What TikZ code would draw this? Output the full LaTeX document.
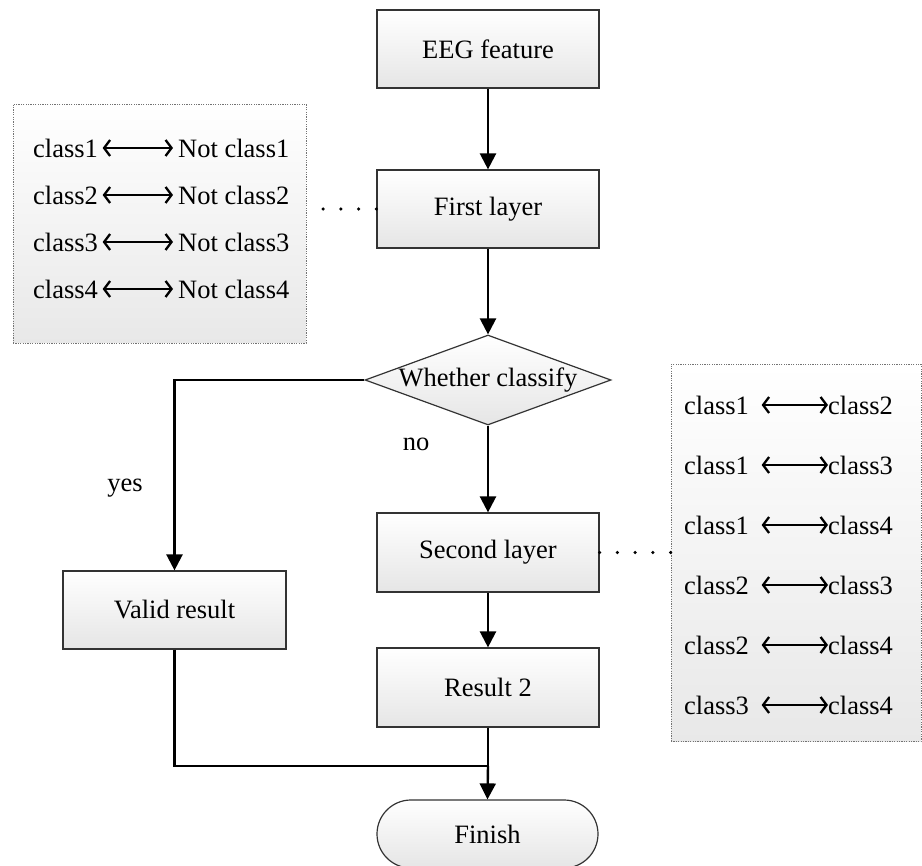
\documentclass[tikz,border=0pt]{standalone}
\usepackage{fontspec}
\setmainfont{Liberation Serif}
\usetikzlibrary{arrows.meta,shapes.geometric}
\begin{document}
\begin{tikzpicture}[x=1pt,y=-1pt,
  every node/.style={font=\fontsize{26.5}{30}\selectfont},
  procbox/.style={draw=black!80, line width=1.2pt, top color=white, bottom color=black!10,
    minimum width=222pt, minimum height=78pt, inner sep=0pt},
  notebox/.style={draw=black!55, line width=0.8pt, dash pattern=on 1.2pt off 1.2pt,
    top color=white, bottom color=black!9, inner sep=0pt},
  lbl/.style={inner sep=0pt, anchor=west},
  flow/.style={line width=2.4pt, -{Triangle[length=16pt,width=16pt]}},
  plain/.style={line width=2.4pt},
  dbl/.style={line width=2.3pt, {Straight Barb[length=6pt,width=16pt]}-{Straight Barb[length=6pt,width=16pt]}},
  dotline/.style={line width=3.6pt, line cap=round, dash pattern=on 0pt off 17.75pt}
]
\useasboundingbox (0,0) rectangle (922,866);

% main flow nodes
\node[procbox] (eeg) at (488,49) {EEG feature};
\node[procbox] (first) at (488,209) {First layer};
\node[diamond, draw=black!80, line width=1.2pt, top color=white, bottom color=black!10,
      minimum width=246pt, minimum height=90pt, inner sep=0pt] (dec) at (488,380) {};
\node (dectext) at (dec) {Whether classify};
\node[procbox, minimum height=79pt] (second) at (488,552.5) {Second layer};
\node[procbox, minimum height=79pt] (res2) at (488,687.5) {Result 2};
\node[procbox, minimum width=223pt] (valid) at (174.5,610) {Valid result};
\node[draw=black!80, line width=1.2pt, top color=white, bottom color=black!10,
      minimum width=221pt, minimum height=68pt, inner sep=0pt, rounded corners=34pt] (finish) at (487.5,834) {Finish};
\coordinate (junc) at (488,766);

% note boxes
\node[notebox, minimum width=293pt, minimum height=239pt] (lbox) at (159.5,223.5) {};
\node[notebox, minimum width=250pt, minimum height=377pt] (rbox) at (796,553) {};

% left box rows
\foreach \i/\y in {1/148,2/195,3/242,4/289}{
  \node[lbl] (la\i) at (33,\y) {class\i};
  \node[lbl] (lb\i) at (178,\y) {Not class\i};
  \draw[dbl, shorten <=4.5pt, shorten >=5pt] (la\i) -- (lb\i);
}

% right box rows
\foreach \a/\b/\y [count=\k] in {1/2/405,1/3/465,1/4/525,2/3/585,2/4/645,3/4/705}{
  \node[lbl] (ra\k) at (684,\y) {class\a};
  \node[lbl] (rb\k) at (828,\y) {class\b};
  \draw[dbl, shorten <=12.5pt] (ra\k) -- (rb\k);
}

% connectors
\draw[flow] (eeg) -- (first);
\draw[flow] (first) -- (dec);
\draw[flow] (dec.west) -| (valid.north);
\draw[flow] (dec.south) -- (second.north);
\draw[flow] (second) -- (res2);
\draw[plain] (res2.south) -- (junc);
\draw[plain] (valid.south) |- (junc);
\draw[flow] (junc) -- (finish.north);

\draw[dotline] (first.west) -- (first.west -| lbox.east);
\draw[dotline] (second.east) -- (second.east -| rbox.west);

% labels
\node (yes) at (125,488) {yes};
\node (no) at (416,444) {no};
\end{tikzpicture}
\end{document}
